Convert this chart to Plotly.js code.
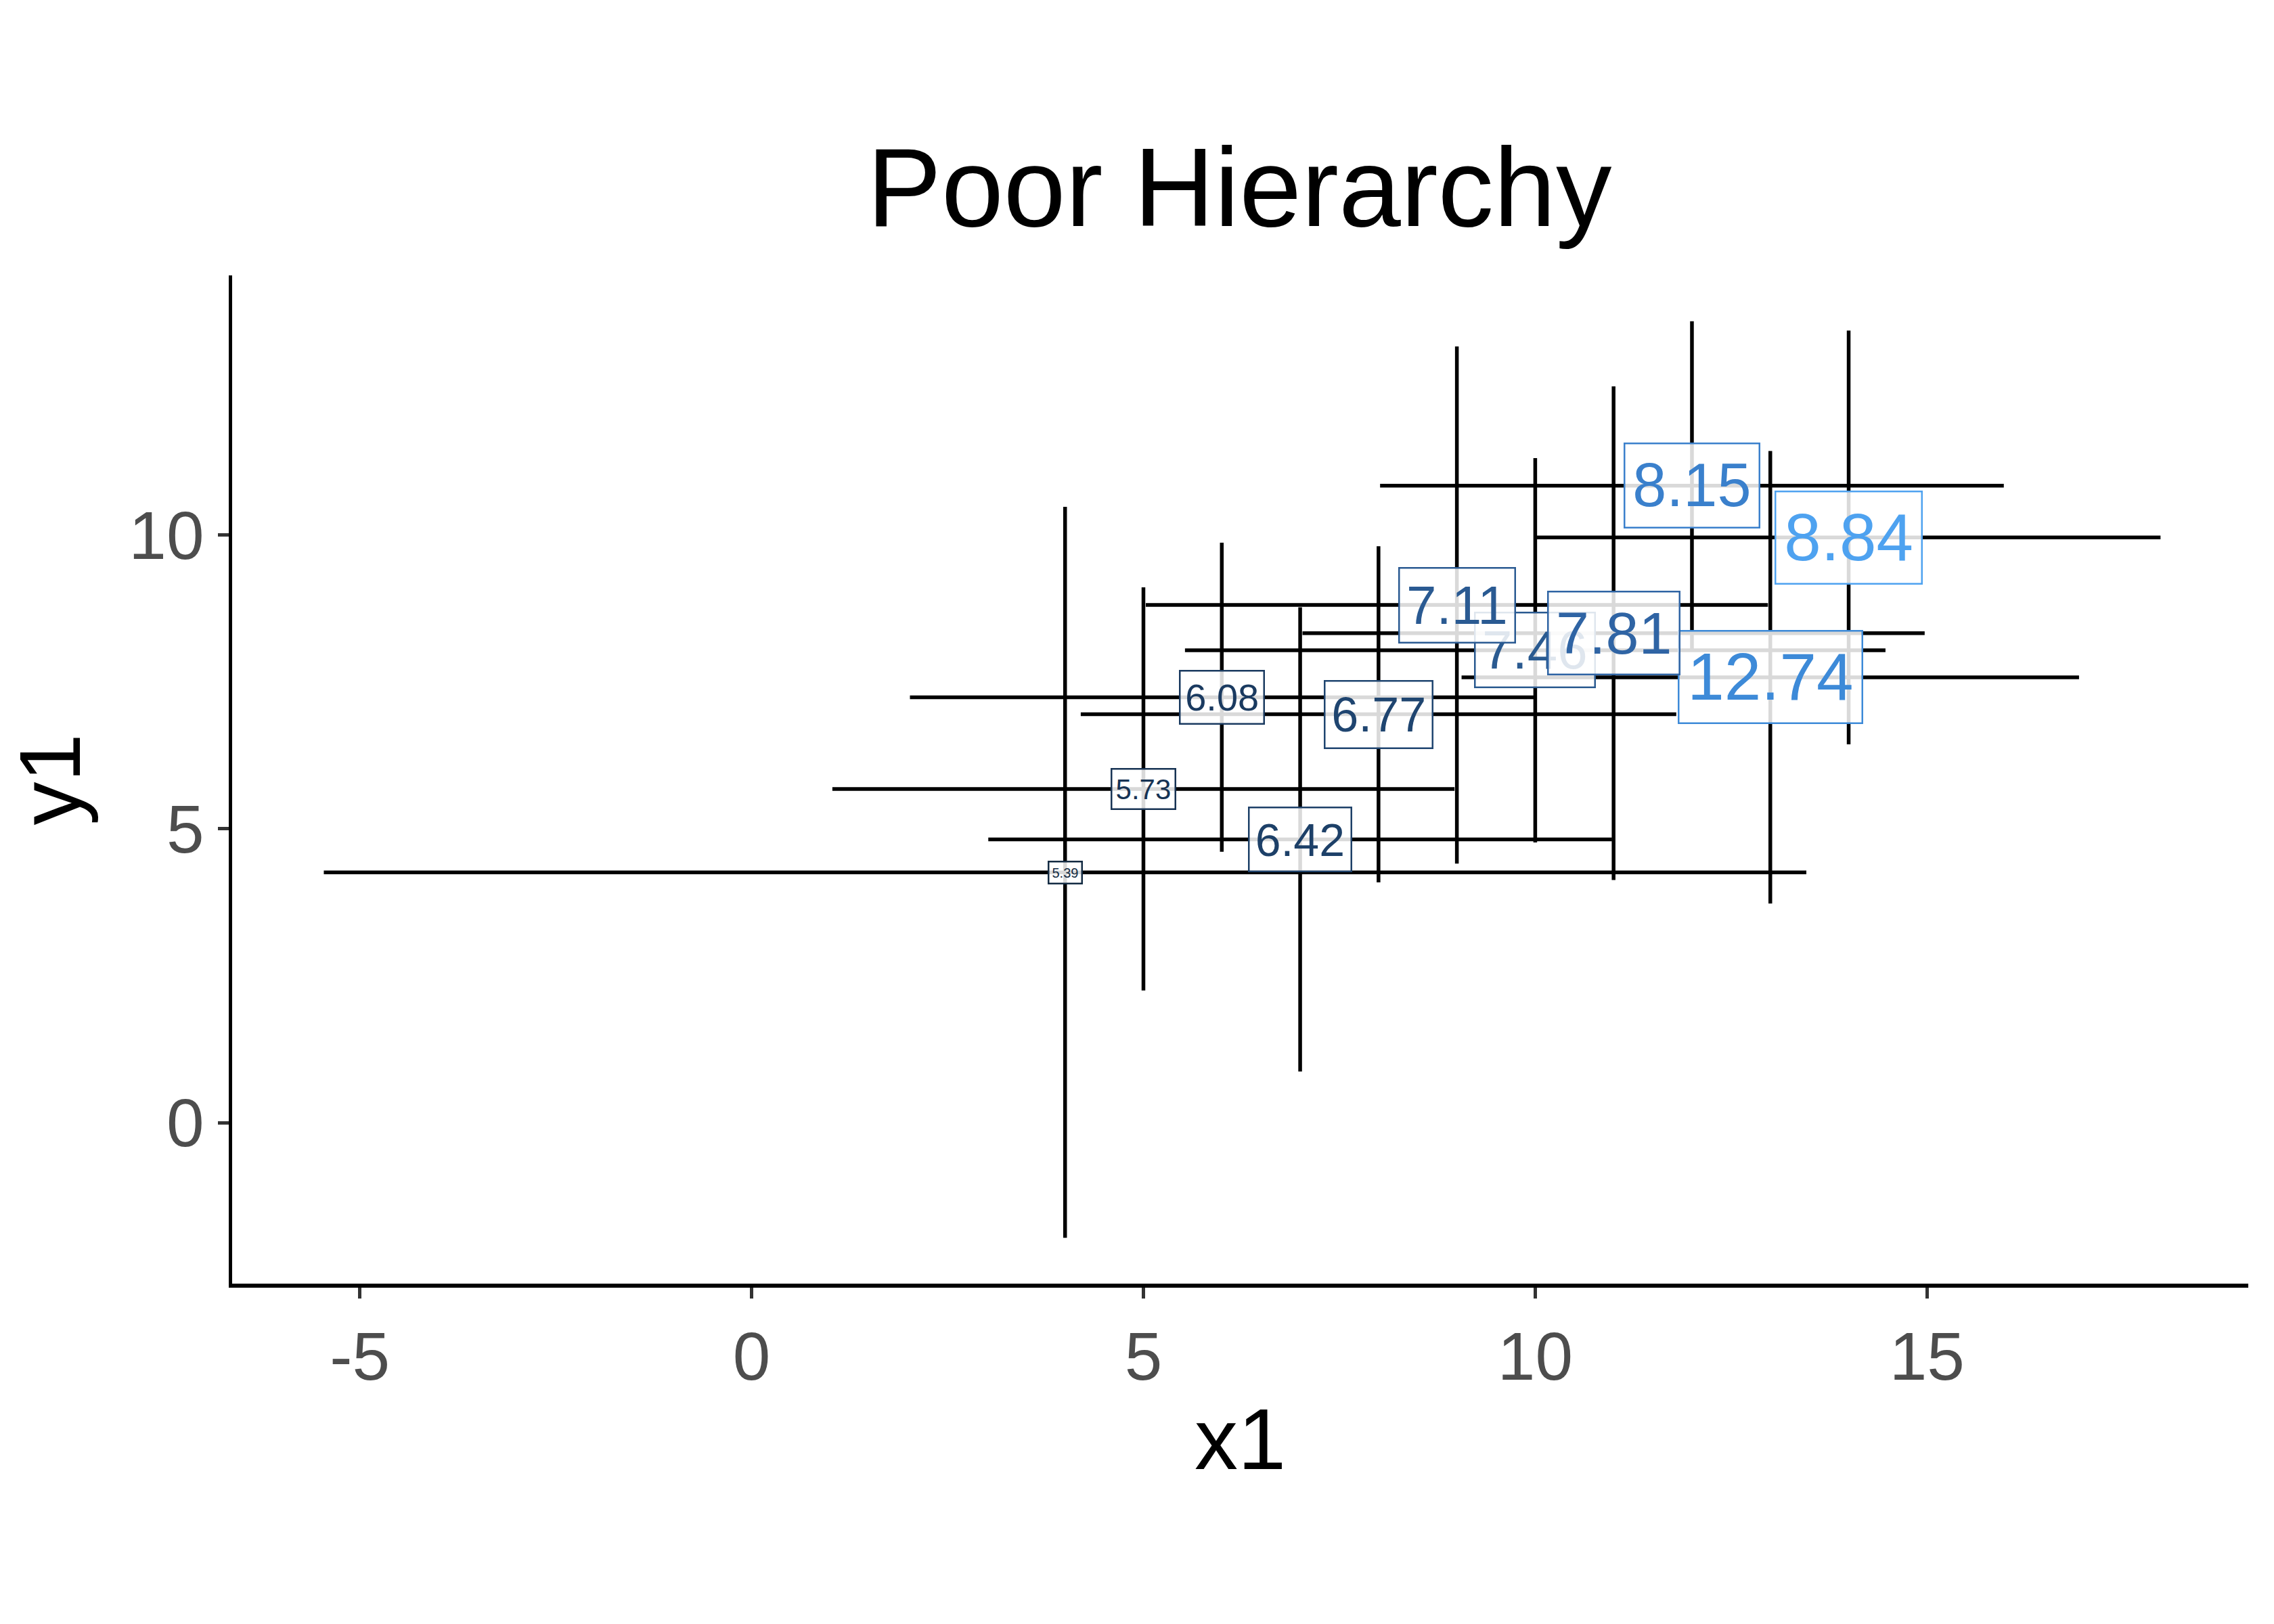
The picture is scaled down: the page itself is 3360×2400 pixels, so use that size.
<!DOCTYPE html>
<html><head><meta charset="utf-8">
<script src="https://cdn.plot.ly/plotly-3.0.1.min.js"></script>
<style>body{margin:0;background:#fff}</style></head>
<body><div id="c" style="width:3360px;height:2400px"></div>
<script>
const x1 = [10, 8, 13, 9, 11, 14, 6, 4, 12, 7, 5];
const y1 = [8.04, 6.95, 7.58, 8.81, 8.33, 9.96, 7.24, 4.26, 10.84, 4.82, 5.68];
const labels = ["7.46", "6.77", "12.74", "7.11", "7.81", "8.84", "6.08", "5.39", "8.15", "6.42", "5.73"];
const xErr = [4.47, 3.8, 3.94, 3.97, 3.97, 3.98, 3.98, 9.46, 3.98, 3.98, 3.97];
const yErr = [3.27, 2.86, 3.85, 4.4, 4.2, 3.52, 2.63, 6.22, 2.8, 3.95, 3.43];
const labelSize = [80, 72, 98, 80, 88, 98, 56, 20, 90, 68, 42];
const labelColor = ["#2a5a90", "#1f4570", "#3d8ad8", "#2a5a92", "#2f64a4", "#4ea2f0", "#1a3a60", "#132b43", "#3a80cc", "#1d4068", "#173354"];
const xTicks = [-5, 0, 5, 10, 15];
const xTickText = ["-5", "0", "5", "10", "15"];
const yTicks = [0, 5, 10];

const ann = x1.map((x, i) => ({
  x: x, y: y1[i], text: labels[i], showarrow: false,
  font: {family: "Liberation Sans, Arial", size: labelSize[i], color: labelColor[i]},
  bgcolor: "rgba(255,255,255,0.85)", bordercolor: labelColor[i], borderwidth: 2.5,
  borderpad: Math.max(4, labelSize[i] * 0.12)
}));

Plotly.newPlot("c", [{
  type: "scatter", mode: "markers", x: x1, y: y1,
  marker: {size: 1, opacity: 0},
  error_x: {type: "data", array: xErr, symmetric: true, color: "#000", thickness: 5.5, width: 0},
  error_y: {type: "data", array: yErr, symmetric: true, color: "#000", thickness: 5.5, width: 0},
  hoverinfo: "none"
}], {
  width: 3360, height: 2400, paper_bgcolor: "#fff", plot_bgcolor: "#fff",
  margin: {l: 343, r: 38, t: 407, b: 503},
  showlegend: false,
  font: {family: "Liberation Sans, Arial", color: "#000"},
  title: {text: "Poor Hierarchy", font: {size: 165, color: "#000"}, x: 0.545, xanchor: "center", y: 0.885, yanchor: "middle"},
  xaxis: {range: [-6.63, 19.1], tickvals: xTicks, ticktext: xTickText, showgrid: false, zeroline: false,
    showline: true, linecolor: "#000", linewidth: 5.5, ticks: "outside", ticklen: 16, tickwidth: 5, tickcolor: "#333",
    tickfont: {size: 100, color: "#4d4d4d"},
    title: {text: "x1", font: {size: 128}, standoff: 25}},
  yaxis: {range: [-2.74, 14.42], tickvals: yTicks, showgrid: false, zeroline: false,
    showline: true, linecolor: "#000", linewidth: 5.5, ticks: "outside", ticklen: 16, tickwidth: 5, tickcolor: "#333",
    tickfont: {size: 100, color: "#4d4d4d"},
    title: {text: "y1", font: {size: 128}, standoff: 30}},
  annotations: ann
}, {staticPlot: true});
</script></body></html>
